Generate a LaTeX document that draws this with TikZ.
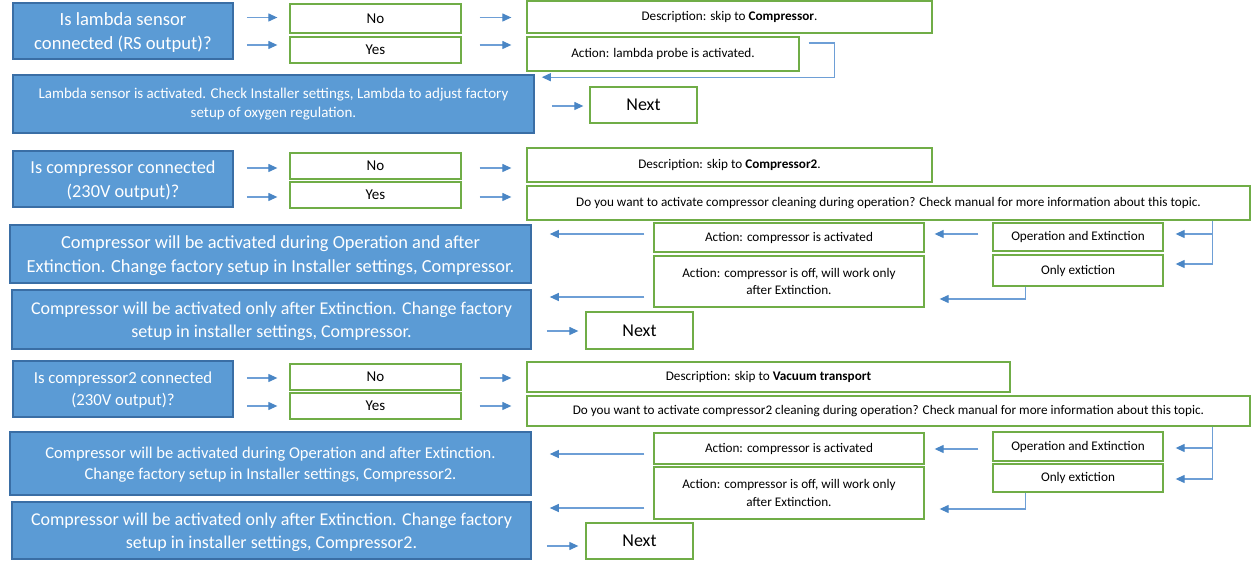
\documentclass[tikz,border=0pt]{standalone}
\usepackage{fontspec}
\setmainfont{Carlito}
\usetikzlibrary{arrows.meta,calc}
\definecolor{bfill}{HTML}{5B9BD5}
\definecolor{bdark}{HTML}{3A6EA5}
\definecolor{gline}{HTML}{70AD47}
\definecolor{acol}{HTML}{4A86C5}
\definecolor{ashaft}{HTML}{6E9FD6}
\newcommand{\fs}[1]{\fontsize{#1}{1.3\dimexpr #1pt\relax}\selectfont}
\tikzset{
  bluebox/.style={draw=bdark, fill=bfill, line width=1.6pt, text=white, align=center, inner sep=0pt, text depth=0pt},
  gbox/.style={draw=gline, fill=white, line width=1.3pt, align=center, inner sep=0pt, font=\fs{13.2}},
  ynbox/.style={gbox, font=\fs{15}, minimum width=171pt, minimum height=26pt},
  nextbox/.style={draw=gline, fill=white, line width=1.3pt, align=center, inner sep=0pt, font=\fs{18},
    minimum width=107pt},
  arr/.style={draw=ashaft, line width=1.2pt, -{Triangle[length=9pt,width=8pt,color=acol]}}
}
\begin{document}
\begin{tikzpicture}[x=1pt,y=-1pt]
\useasboundingbox (0,0) rectangle (1254,561);
% ---------- Section 1 ----------
\node[bluebox, minimum width=220pt, minimum height=56pt, font=\fs{18.6}] (Q1) at (123,31) {Is lambda sensor\\connected (RS output)?};
\node[ynbox, minimum height=29pt] (No1) at (375.5,18.5) {No};
\node[ynbox] (Yes1) at (375.5,50) {Yes};
\node[gbox, minimum width=405pt, minimum height=32pt] (Desc1) at (729.5,17) {Description: skip to \textbf{Compressor}.};
\node[gbox, minimum width=272pt, minimum height=34pt] (Act1) at (663,54) {Action: lambda probe is activated.};
\node[bluebox, minimum width=521pt, minimum height=58pt, font=\fs{15}, text depth=] (Lam) at (273.5,104) {Lambda sensor is activated. Check Installer settings, Lambda to adjust factory\\setup of oxygen regulation.};
\node[nextbox, minimum height=36pt] (Next1) at (643.5,105) {Next};
\draw[arr, shorten <=13pt, shorten >=12pt] ($(Q1.east |- No1.west)+(0,-1)$) -- ($(No1.west)+(0,-1)$);
\draw[arr, shorten <=13pt, shorten >=12pt] ($(Q1.east |- Yes1.west)+(0,-5)$) -- ($(Yes1.west)+(0,-5)$);
\draw[arr, shorten <=18pt, shorten >=15pt] ($(No1.east)+(0,-1)$) -- ($(No1.east -| Desc1.west)+(0,-1)$);
\draw[arr, shorten <=18pt, shorten >=15pt] ($(Yes1.east)+(0,-5)$) -- ($(Yes1.east -| Act1.west)+(0,-5)$);
\draw[arr] ($(Act1.east)+(9,-11)$) -- ++(26,0) |- ($(Lam.north east)+(7,3)$);
\draw[arr, shorten <=17pt, shorten >=6pt] ($(Next1.west -| Lam.east)+(0,1)$) -- ($(Next1.west)+(0,1)$);
% ---------- Section 2 ----------
\node[bluebox, minimum width=220pt, minimum height=56pt, font=\fs{18.3}] (Q2) at (123,179) {Is compressor connected\\(230V output)?};
\node[ynbox] (No2) at (375.5,166) {No};
\node[ynbox] (Yes2) at (375.5,195) {Yes};
\node[gbox, minimum width=405pt, minimum height=34pt] (Desc2) at (729.5,165) {Description: skip to \textbf{Compressor2}.};
\node[gbox, minimum width=723pt, minimum height=34pt] (Quest2) at (888.5,203) {Do you want to activate compressor cleaning during operation? Check manual for more information about this topic.};
\node[gbox, minimum width=170pt, minimum height=28pt] (OpE2) at (1078,237) {Operation and Extinction};
\node[gbox, minimum width=170pt, minimum height=31pt] (Only2) at (1078,270.5) {Only extiction};
\node[gbox, minimum width=270pt, minimum height=29pt] (ActOn2) at (789,237.5) {Action: compressor is activated};
\node[gbox, minimum width=270pt, minimum height=51pt] (ActOff2) at (789,281.5) {Action: compressor is off, will work only\\after Extinction.};
\node[bluebox, minimum width=521pt, minimum height=58pt, font=\fs{18.4}] (B3) at (270.5,254) {Compressor will be activated during Operation and after\\Extinction. Change factory setup in Installer settings, Compressor.};
\node[bluebox, minimum width=519pt, minimum height=59pt, font=\fs{18}] (B4) at (271.5,319.5) {Compressor will be activated only after Extinction. Change factory\\setup in installer settings, Compressor.};
\node[nextbox, minimum height=37pt] (Next2) at (639.5,330.5) {Next};
\draw[arr, shorten <=13pt, shorten >=12pt] ($(Q2.east |- No2.west)+(0,2)$) -- ($(No2.west)+(0,2)$);
\draw[arr, shorten <=13pt, shorten >=12pt] ($(Q2.east |- Yes2.west)+(0,2)$) -- ($(Yes2.west)+(0,2)$);
\draw[arr, shorten <=18pt, shorten >=15pt] ($(No2.east)+(0,2)$) -- ($(No2.east -| Desc2.west)+(0,2)$);
\draw[arr, shorten <=18pt, shorten >=15pt] ($(Yes2.east)+(0,2)$) -- ($(Yes2.east -| Quest2.west)+(0,2)$);
\coordinate (v2) at ($(Quest2.south east)+(-38,0)$);
\draw[arr, shorten >=12pt] (v2) |- ($(OpE2.east)+(0,-3)$);
\draw[arr, shorten >=12pt] (v2) |- ($(Only2.east)+(0,-6.5)$);
\draw[arr, shorten <=14pt, shorten >=10pt] ($(OpE2.west)+(0,-3)$) -- ($(OpE2.west -| ActOn2.east)+(0,-3)$);
\draw[arr, shorten >=15pt] ($(Only2.south west)+(33,0)$) |- ($(ActOff2.east)+(0,17.5)$);
\draw[arr, shorten <=9pt, shorten >=18pt] ($(ActOn2.west)+(0,-3.5)$) -- ($(ActOn2.west -| B3.east)+(0,-3.5)$);
\draw[arr, shorten <=9pt, shorten >=18pt] ($(ActOff2.west)+(0,15.5)$) -- ($(ActOff2.west -| B4.east)+(0,15.5)$);
\draw[arr, shorten <=15pt, shorten >=7pt] ($(Next2.west -| B4.east)+(0,0.5)$) -- ($(Next2.west)+(0,0.5)$);
% ---------- Section 3 ----------
\node[bluebox, minimum width=220pt, minimum height=56pt, font=\fs{16.8}] (Q3) at (123,389) {Is compressor2 connected\\(230V output)?};
\node[ynbox] (No3) at (375.5,377) {No};
\node[ynbox] (Yes3) at (375.5,406) {Yes};
\node[gbox, minimum width=483pt, minimum height=30pt] (Desc3) at (768.5,377) {Description: skip to \textbf{Vacuum transport}};
\node[gbox, minimum width=723pt, minimum height=30pt] (Quest3) at (888.5,411) {Do you want to activate compressor2 cleaning during operation? Check manual for more information about this topic.};
\node[gbox, minimum width=170pt, minimum height=29pt] (OpE3) at (1078,446.5) {Operation and Extinction};
\node[gbox, minimum width=170pt, minimum height=28pt] (Only3) at (1078,478) {Only extiction};
\node[gbox, minimum width=270pt, minimum height=31pt] (ActOn3) at (789,448.5) {Action: compressor is activated};
\node[gbox, minimum width=270pt, minimum height=52pt] (ActOff3) at (789,493) {Action: compressor is off, will work only\\after Extinction.};
\node[bluebox, minimum width=521pt, minimum height=63pt, font=\fs{16.5}] (B5) at (270.5,463.5) {Compressor will be activated during Operation and after Extinction.\\Change factory setup in Installer settings, Compressor2.};
\node[bluebox, minimum width=519pt, minimum height=57pt, font=\fs{18}] (B6) at (271.5,530.5) {Compressor will be activated only after Extinction. Change factory\\setup in installer settings, Compressor2.};
\node[nextbox, minimum height=36pt] (Next3) at (639.5,541) {Next};
\draw[arr, shorten <=13pt, shorten >=12pt] ($(Q3.east |- No3.west)+(0,1)$) -- ($(No3.west)+(0,1)$);
\draw[arr, shorten <=13pt, shorten >=12pt] ($(Q3.east |- Yes3.west)+(0,0)$) -- ($(Yes3.west)+(0,0)$);
\draw[arr, shorten <=18pt, shorten >=15pt] ($(No3.east)+(0,1)$) -- ($(No3.east -| Desc3.west)+(0,1)$);
\draw[arr, shorten <=18pt, shorten >=15pt] ($(Yes3.east)+(0,0)$) -- ($(Yes3.east -| Quest3.west)+(0,0)$);
\coordinate (v3) at ($(Quest3.south east)+(-38,0)$);
\draw[arr, shorten >=12pt] (v3) |- ($(OpE3.east)+(0,1.5)$);
\draw[arr, shorten >=12pt] (v3) |- ($(Only3.east)+(0,1)$);
\draw[arr, shorten <=14pt, shorten >=10pt] ($(OpE3.west)+(0,2.5)$) -- ($(OpE3.west -| ActOn3.east)+(0,2.5)$);
\draw[arr, shorten >=15pt] ($(Only3.south west)+(33,0)$) |- ($(ActOff3.east)+(0,16)$);
\draw[arr, shorten <=9pt, shorten >=18pt] ($(ActOn3.west)+(0,5.5)$) -- ($(ActOn3.west -| B5.east)+(0,5.5)$);
\draw[arr, shorten <=9pt, shorten >=18pt] ($(ActOff3.west)+(0,15)$) -- ($(ActOff3.west -| B6.east)+(0,15)$);
\draw[arr, shorten <=15pt, shorten >=7pt] ($(Next3.west -| B6.east)+(0,5)$) -- ($(Next3.west)+(0,5)$);
\end{tikzpicture}
\end{document}
